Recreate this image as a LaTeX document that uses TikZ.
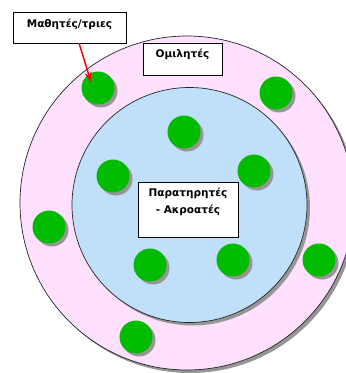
\documentclass[tikz,border=0pt]{standalone}
\usepackage{fontspec}
\setmainfont{DejaVu Sans}
\usetikzlibrary{arrows.meta}
\definecolor{pinkfill}{RGB}{255,224,255}
\definecolor{bluefill}{RGB}{192,224,250}
\definecolor{dotgreen}{RGB}{0,187,0}
\definecolor{shadowgray}{RGB}{150,150,150}
\tikzset{
  ring/.style={draw=black!85, line width=0.7pt},
  dot/.style={circle, fill=dotgreen, minimum size=33pt, inner sep=0pt},
  dotshadow/.style={circle, fill=shadowgray, minimum size=33pt, inner sep=0pt},
  label box/.style={draw=black, line width=0.6pt, fill=white, inner sep=0pt},
  label text/.style={font=\bfseries\fontsize{10.5}{12}\selectfont, align=center, inner sep=0pt},
}
\begin{document}
\begin{tikzpicture}[x=1pt, y=-1pt]
\useasboundingbox (0,0) rectangle (346,373);
\clip (0,0) rectangle (346,373);
% outer ring
\fill[shadowgray] (190,206) circle (167);
\path[ring, fill=pinkfill] (187,203) circle (167);
% inner circle
\fill[shadowgray] (192.5,208) circle (117.5);
\path[ring, fill=bluefill] (189.5,205) circle (117.5);
% dots
\foreach \n/\x/\y in {d1/98/88, d2/276/93, d3/184/132, d4/113/176, d5/254/171, d6/49/227, d7/150/265, d8/233/260, d9/319/260, d10/136/337} {
  \node[dotshadow] at (\x+3,\y+3) {};
  \node[dot] (\n) at (\x,\y) {};
}
% boxes
\node[label box, minimum width=113pt, minimum height=31pt, anchor=north west] (mb) at (13,12) {};
\node[label text] (mt) at (69.5,24) {Μαθητές/τριες};
\node[label box, minimum width=79pt, minimum height=32pt, anchor=north west] (ob) at (143,43) {};
\node[label text] (ot) at (182.5,54) {Ομιλητές};
\node[label box, minimum width=100pt, minimum height=55pt, anchor=north west] (pb) at (138,182) {};
\node[label text, font=\bfseries\fontsize{10.5}{17}\selectfont] (pt) at (188,202) {Παρατηρητές\\- Ακροατές};
% arrow
\coordinate (as) at (79,43);
\coordinate (at) at (91,82);
\draw[red, line width=1.5pt, -{Stealth[length=10pt, width=7pt]}] (as) -- (at);
\end{tikzpicture}
\end{document}
